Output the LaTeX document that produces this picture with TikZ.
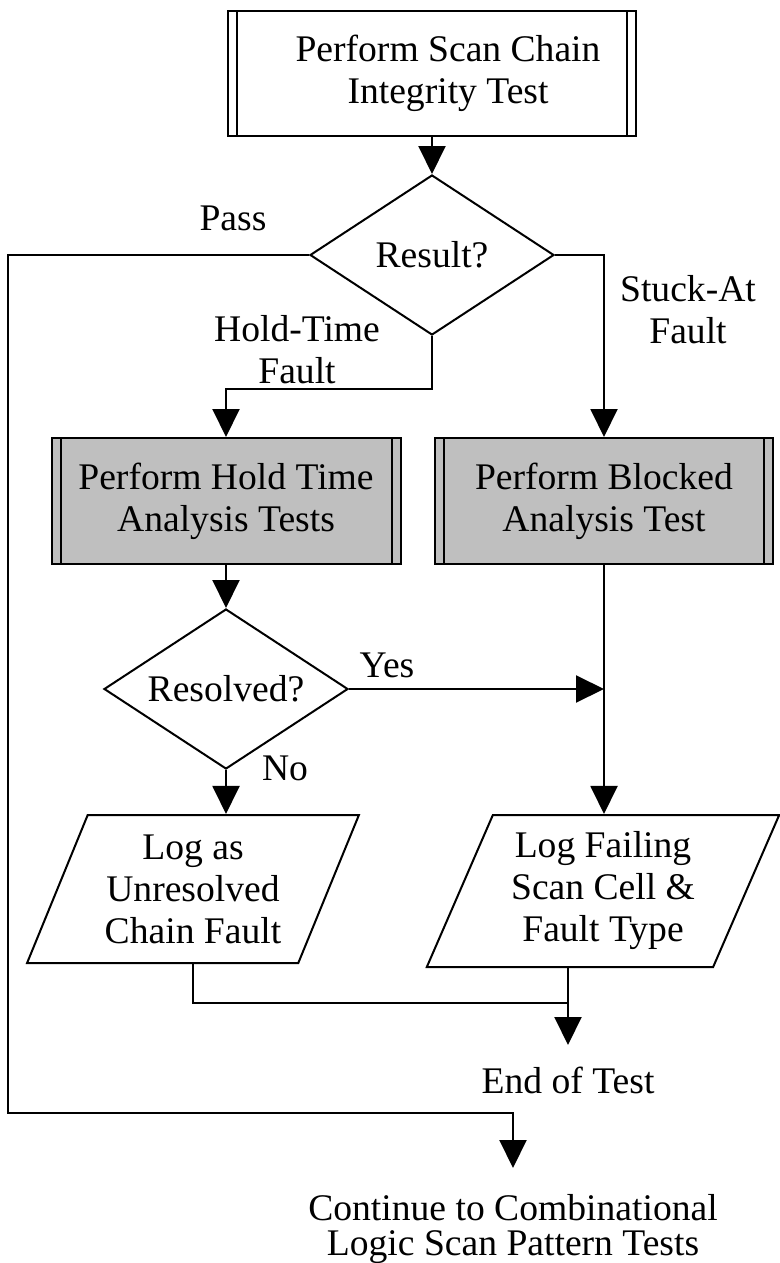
\documentclass[tikz,border=0pt]{standalone}
\usepackage{fontspec}
\setmainfont{Liberation Serif}
\usetikzlibrary{arrows.meta,shapes.geometric}

\begin{document}
\begin{tikzpicture}[
    x=0.5pt, y=-0.5pt,
    font=\fontsize{18.8}{21}\selectfont,
    line width=1pt,
    sides/.style={path picture={
        \draw ([xshift=4.5pt]path picture bounding box.north west) -- ([xshift=4.5pt]path picture bounding box.south west);
        \draw ([xshift=-4.5pt]path picture bounding box.north east) -- ([xshift=-4.5pt]path picture bounding box.south east);}},
    process/.style={draw, sides, align=center, inner sep=0pt},
    analysis/.style={process, fill=black!25},
    decision/.style={draw, diamond, align=center, inner sep=0pt, shape aspect=1.5,
        minimum width=122pt, minimum height=80pt},
    logbox/.style={draw, trapezium, trapezium left angle=65, trapezium right angle=115,
        trapezium stretches=true, align=center, inner sep=0pt},
    term/.style={align=center, inner sep=0pt, outer sep=11pt, anchor=north},
    flow/.style={-{Triangle[width=13.5pt,length=14pt]}}
  ]
  \useasboundingbox (0,0) rectangle (780,1263);

  \node (scan) [process, minimum width=204pt, minimum height=62.5pt] at (432,73.5) {\hspace*{16pt}Perform Scan Chain\\\hspace*{16pt}Integrity Test};
  \node (result) [decision] at (432,255) {Result?};
  \node (hold) [analysis, minimum width=174.5pt, minimum height=63pt] at (226,501) {Perform Hold Time\\Analysis Tests};
  \node (blocked) [analysis, minimum width=169pt, minimum height=63pt] at (604,501) {Perform Blocked\\Analysis Test};
  \node (resolved) [decision] at (226,689) {Resolved?};
  \node (logunres) [logbox, minimum width=166pt, minimum height=74pt] at (193,889) {Log as\\Unresolved\\Chain Fault};
  \node (logfail) [logbox, minimum width=176.5pt, minimum height=76pt] at (603,891) {Log Failing\\Scan Cell \&\\Fault Type};
  \node (endtest) [term] at (568,1045) {End of Test};
  \node (cont) [term, outer sep=13pt, font=\fontsize{18.8}{17.5}\selectfont] at (513,1168) {Continue to Combinational\\Logic Scan Pattern Tests};

  % branch labels
  \node (lpass) at (233,218) {Pass};
  \node (lhold) [align=center] at (297,350) {Hold-Time\\Fault};
  \node (lstuck) [align=center] at (688,310) {Stuck-At\\Fault};
  \node (lyes) at (387,665) {Yes};
  \node (lno) at (285,768) {No};

  \coordinate (pbend) at (8,1113);
  \coordinate (merge) at (568,1003);

  \draw [flow] (scan.south) -- (result.north);
  \draw [flow] (result.west) -| (pbend) -| (cont.north);
  \draw [flow] (result.south) -- ++(0,53) -| (hold.north);
  \draw [flow] (result.east) -| (blocked.north);
  \draw [flow] (hold.south) -- (resolved.north);
  \draw [flow] (resolved.east) -- (resolved.east -| blocked.south);
  \draw [flow] (blocked.south) -- (blocked.south |- logfail.north);
  \draw [flow] (resolved.south) -- (resolved.south |- logunres.north);
  \draw (logunres.south) |- (merge);
  \draw [flow] (endtest.north |- logfail.south) -- (endtest.north);
\end{tikzpicture}
\end{document}
